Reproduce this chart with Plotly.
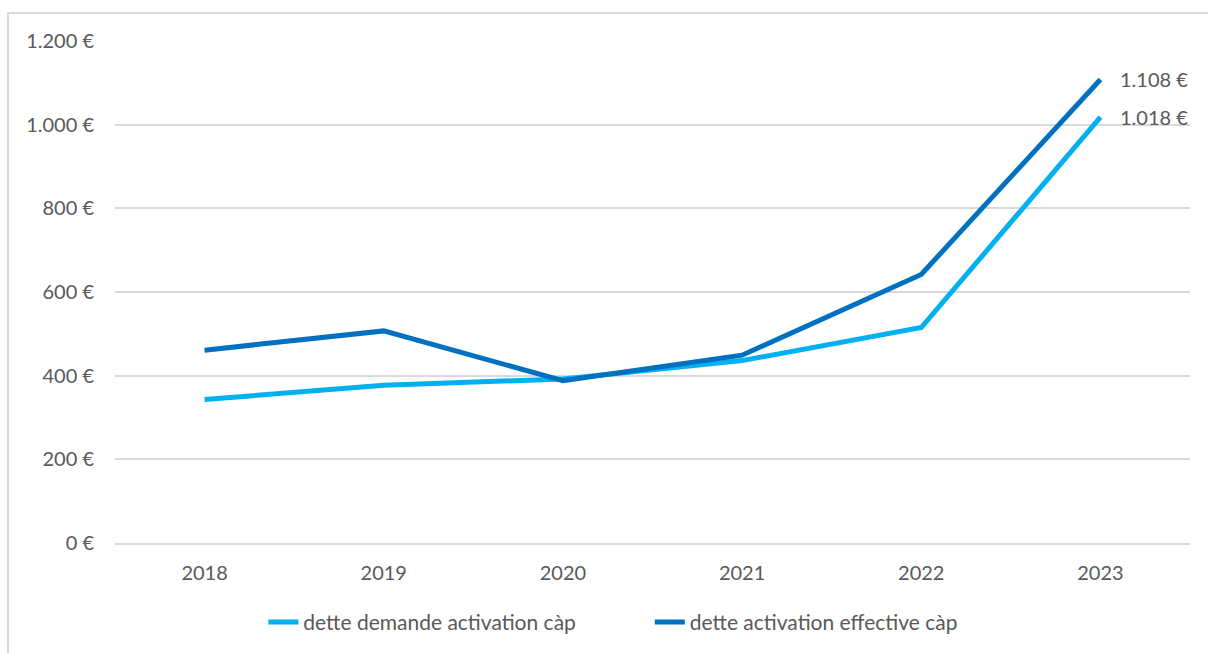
import plotly.graph_objects as go

# Années et montants de dette (en euros)
years = ["2018", "2019", "2020", "2021", "2022", "2023"]
dette_demande = [343, 377, 392, 436, 515, 1018]
dette_effective = [461, 507, 388, 449, 642, 1108]
series_names = ["dette demande activation càp", "dette activation effective càp"]
y_ticks = [0, 200, 400, 600, 800, 1000, 1200]
y_tick_labels = ["0 €", "200 €", "400 €", "600 €", "800 €", "1.000 €", "1.200 €"]


def eur(v):
    return f"{v:,}".replace(",", ".") + " €"


FONT = "Lato, 'Open Sans', sans-serif"
GREY = "#595959"
FS = 20

fig = go.Figure()
fig.add_trace(go.Scatter(
    x=years, y=dette_demande, name=series_names[0], mode="lines",
    line=dict(color="#00B0F0", width=5), legend="legend",
))
fig.add_trace(go.Scatter(
    x=years, y=dette_effective, name=series_names[1], mode="lines",
    line=dict(color="#0070C0", width=5), legend="legend2",
))

# Étiquettes de valeur sur la dernière année (position = index de catégorie)
last = len(years) - 1
annotations = []
for values in (dette_demande, dette_effective):
    annotations.append(dict(
        x=last, y=values[-1], xref="x", yref="y",
        text=eur(values[-1]), showarrow=False,
        xanchor="left", yanchor="middle", xshift=18,
        font=dict(size=FS, color=GREY, family=FONT),
    ))

legend_style = dict(orientation="h", y=-0.117, yanchor="top",
                    font=dict(size=21, color=GREY, family=FONT),
                    bgcolor="rgba(0,0,0,0)")

fig.update_layout(
    width=1208, height=653,
    margin=dict(l=115, r=18, t=41, b=110, autoexpand=False),
    paper_bgcolor="white", plot_bgcolor="white",
    font=dict(family=FONT, size=FS, color=GREY),
    showlegend=True,
    legend=dict(x=0.138, xanchor="left", **legend_style),
    legend2=dict(x=0.4975, xanchor="left", **legend_style),
    annotations=annotations,
    shapes=[dict(type="rect", xref="paper", yref="paper",
                 x0=-0.0995, x1=1.05, y0=-0.3, y1=1.0558,
                 line=dict(color="#D9D9D9", width=2), fillcolor="rgba(0,0,0,0)",
                 layer="below")],
)
fig.update_xaxes(
    type="category", range=[-0.5, 5.5], showgrid=False,
    showline=True, linecolor="#D9D9D9", linewidth=1.5,
    ticks="", ticklabelstandoff=11, tickfont=dict(size=FS, color=GREY),
)
fig.update_yaxes(
    range=[0, 1200], tickvals=y_ticks, ticktext=y_tick_labels,
    showgrid=True, gridcolor="#D9D9D9", gridwidth=1.5,
    zeroline=False, showline=False, ticks="",
    ticklabelstandoff=20, tickfont=dict(size=FS, color=GREY),
)

fig.write_html("out.html")
